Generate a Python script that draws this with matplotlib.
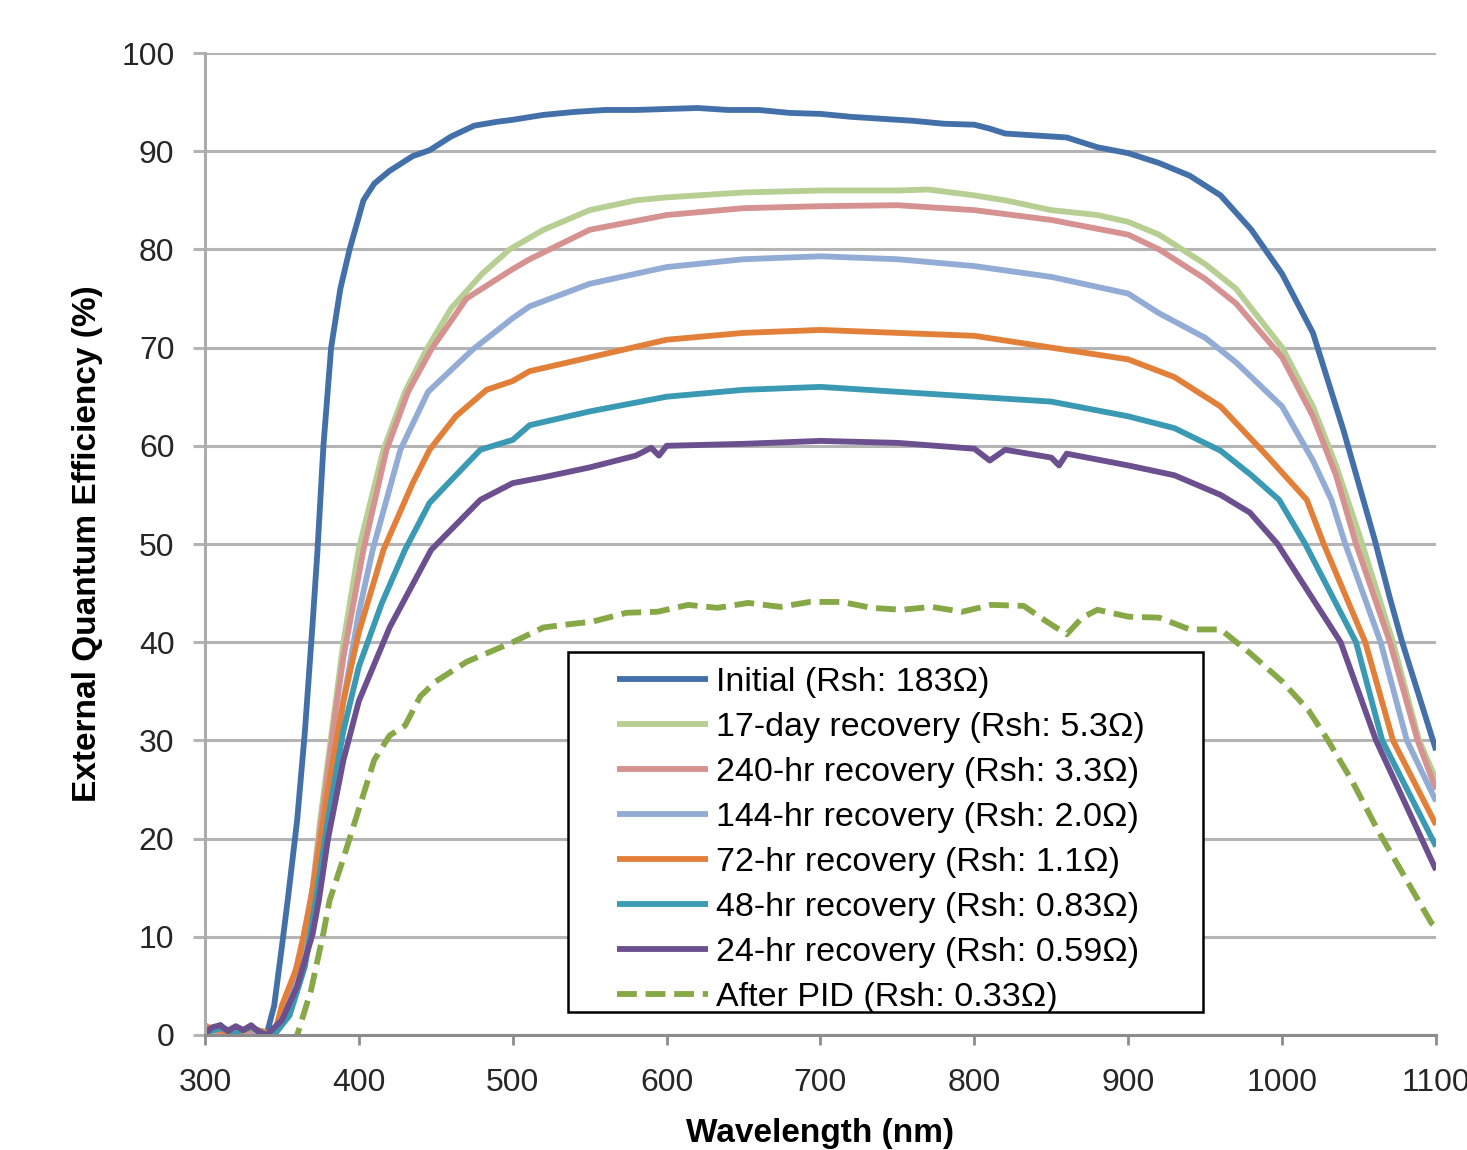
import numpy as np
import matplotlib
matplotlib.use("Agg")
import matplotlib.pyplot as plt
from matplotlib.patches import Rectangle

plt.rcParams['font.family'] = ['Liberation Sans', 'DejaVu Sans']

# --- data (wavelength in nm, EQE in %) ---
wl_initial = [300, 305, 310, 315, 320, 325, 330, 335, 340, 345, 350, 354, 360, 365, 370, 373, 377, 382,
              388, 394, 403, 410, 420, 435, 446, 460, 475, 490, 500, 520, 540, 560, 580, 600, 620, 640,
              660, 680, 700, 720, 740, 760, 780, 800, 810, 820, 840, 860, 880, 900, 920, 940, 960, 980,
              1000, 1020, 1040, 1050, 1060, 1070, 1078, 1090, 1100]
eqe_initial = [0.5, 0.3, 1.0, 0.2, 0.8, 0.1, 0.9, -0.5, 0, 3, 9, 14, 22, 31, 42, 49, 60, 70,
               76, 80, 85, 86.7, 88, 89.5, 90.1, 91.5, 92.6, 93, 93.2, 93.7, 94, 94.2, 94.2, 94.3, 94.4, 94.2,
               94.2, 93.9, 93.8, 93.5, 93.3, 93.1, 92.8, 92.7, 92.3, 91.8, 91.6, 91.4, 90.4, 89.8, 88.8, 87.5,
               85.5, 82, 77.5, 71.5, 61.5, 56, 50.5, 44.5, 40, 34, 29]

wl_17day = [300, 310, 320, 330, 340, 345, 355, 365, 370, 375, 380, 385, 390, 400, 416, 430, 444, 460,
            480, 498, 520, 550, 580, 600, 650, 700, 750, 770, 800, 820, 850, 880, 900, 920, 950, 970,
            1000, 1020, 1035, 1050, 1072, 1089, 1100]
eqe_17day = [0.5, 0.3, 0.8, 0.2, 0, 0, 3, 10, 15, 22, 28, 34, 40, 49.5, 59.6, 65.5, 69.8, 74,
             77.5, 80, 82, 84, 85, 85.3, 85.8, 86, 86, 86.1, 85.5, 85, 84, 83.5, 82.8, 81.5, 78.5, 76,
             70, 64, 58, 51, 40, 30, 26]

wl_240hr = [300, 310, 320, 330, 340, 345, 355, 364, 370, 375, 380, 385, 390, 403, 418, 432, 447, 470,
            500, 511, 550, 600, 650, 700, 750, 800, 850, 900, 920, 950, 970, 1000, 1020, 1035, 1048,
            1070, 1088, 1100]
eqe_240hr = [1.0, 0.2, 0.6, 0.3, 0, 0, 4, 10, 15, 21, 27, 33, 38.5, 49.4, 59.6, 65.5, 69.8, 75,
             78, 79, 82, 83.5, 84.2, 84.4, 84.5, 84, 83, 81.5, 80, 77, 74.5, 69, 63, 57, 50,
             40, 30, 25]

wl_144hr = [300, 310, 320, 330, 340, 345, 355, 365, 372, 380, 390, 400, 409, 427, 445, 474, 500, 511,
            550, 600, 650, 700, 750, 800, 850, 900, 920, 950, 970, 1000, 1020, 1032, 1041, 1064, 1081, 1100]
eqe_144hr = [0.3, 0.8, 0.2, 0.6, 0, 0, 3, 9, 15, 24, 34, 43, 49.4, 59.6, 65.5, 69.8, 73, 74.2,
             76.5, 78.2, 79, 79.3, 79, 78.3, 77.2, 75.5, 73.5, 71, 68.5, 64, 58.5, 54.5, 50, 40, 30, 23.8]

wl_72hr = [300, 310, 320, 330, 337, 345, 350, 360, 369, 380, 390, 400, 416, 435, 446, 463, 483, 500,
           511, 550, 600, 650, 700, 750, 800, 850, 900, 930, 960, 990, 1016, 1027, 1054, 1072, 1100]
eqe_72hr = [0.8, 0.5, 0.2, 0.7, 0.4, 0, 3, 7, 13.7, 25, 34, 41, 49.4, 56.2, 59.6, 63, 65.7, 66.6,
            67.6, 69, 70.8, 71.5, 71.8, 71.5, 71.2, 70, 68.8, 67, 64, 59, 54.5, 50, 40, 30, 21.4]

wl_48hr = [300, 310, 320, 330, 340, 345, 355, 365, 372, 380, 390, 400, 415, 430, 446, 460, 479, 500,
           511, 550, 600, 650, 700, 750, 800, 850, 900, 930, 960, 980, 998, 1015, 1048, 1065, 1100]
eqe_48hr = [0.2, 0.7, 0.3, 0.8, 0, 0, 2, 7, 13.7, 22, 31, 37.5, 44, 49.4, 54.2, 56.5, 59.6, 60.6,
            62.1, 63.5, 65, 65.7, 66, 65.5, 65, 64.5, 63, 61.8, 59.5, 57, 54.5, 50, 40, 30, 19.2]

wl_24hr = [300, 305, 310, 315, 320, 325, 330, 335, 340, 350, 360, 370, 374, 380, 390, 400, 420, 447,
           479, 500, 520, 550, 580, 590, 595, 600, 650, 700, 750, 800, 810, 820, 850, 855, 860, 900,
           930, 960, 979, 997, 1038, 1061, 1100]
eqe_24hr = [0.2, 0.8, 1.0, 0.4, 0.9, 0.5, 1.0, 0.3, 0, 1.5, 5, 10.3, 13.7, 20, 28, 34, 41.5, 49.4,
            54.5, 56.2, 56.8, 57.8, 59, 59.8, 59, 60, 60.2, 60.5, 60.3, 59.7, 58.5, 59.6, 58.8, 58, 59.2, 58,
            57, 55, 53.2, 50, 40, 30, 16.8]

wl_pid = [355, 360, 369, 377, 381, 390, 400, 410, 420, 430, 440, 450, 470, 485, 500, 520, 535, 552,
          574, 594, 614, 633, 653, 674, 693, 714, 733, 753, 772, 792, 811, 832, 847, 860, 870, 880,
          900, 920, 940, 960, 979, 1000, 1017, 1029, 1045, 1062, 1080, 1097, 1100]
eqe_pid = [-1, 0, 4.6, 10.4, 13.7, 18, 23, 28, 30.5, 31.5, 34.5, 36, 38, 39, 40, 41.5, 41.8, 42.1,
           43, 43.1, 43.8, 43.5, 44, 43.6, 44.1, 44.1, 43.5, 43.3, 43.6, 43.1, 43.8, 43.7, 42.1, 40.8, 42.5, 43.3,
           42.6, 42.5, 41.3, 41.3, 38.9, 36, 33.1, 30.2, 26, 20.9, 16, 11.4, 11]

labels = ['Initial (Rsh: 183\u03a9)', '17-day recovery (Rsh: 5.3\u03a9)', '240-hr recovery (Rsh: 3.3\u03a9)',
          '144-hr recovery (Rsh: 2.0\u03a9)', '72-hr recovery (Rsh: 1.1\u03a9)', '48-hr recovery (Rsh: 0.83\u03a9)',
          '24-hr recovery (Rsh: 0.59\u03a9)', 'After PID (Rsh: 0.33\u03a9)']
colors = ['#4470AA', '#B8CF93', '#D69290', '#93ACD5', '#E2803A', '#3A99B3', '#6B4F8F', '#87A847']

series = [(wl_initial, eqe_initial), (wl_17day, eqe_17day), (wl_240hr, eqe_240hr), (wl_144hr, eqe_144hr),
          (wl_72hr, eqe_72hr), (wl_48hr, eqe_48hr), (wl_24hr, eqe_24hr), (wl_pid, eqe_pid)]

fig = plt.figure(figsize=(14.67, 11.5), dpi=100)
ax = fig.add_subplot(111)
fig.subplots_adjust(left=0.1397, right=0.9789, bottom=0.1, top=0.9539)

lw = 4.2
handles = []
for i, (x, y) in enumerate(series):
    if i == len(series) - 1:
        h, = ax.plot(x, y, color=colors[i], lw=lw, dashes=(3.4, 1.5), label=labels[i])
    else:
        h, = ax.plot(x, y, color=colors[i], lw=lw, label=labels[i], solid_capstyle='butt',
                     solid_joinstyle='round')
    handles.append(h)

ax.set_xlim(300, 1100)
ax.set_ylim(0, 100)
ax.set_xticks(np.arange(300, 1101, 100))
ax.set_yticks(np.arange(0, 101, 10))

ax.set_axisbelow(True)
ax.yaxis.grid(True, color='#B4B4B4', lw=2.2)
ax.spines['top'].set_visible(False)
ax.spines['right'].set_visible(False)
ax.spines['left'].set_color('#ABABAB')
ax.spines['left'].set_linewidth(2.2)
ax.spines['bottom'].set_color('#8C8C8C')
ax.spines['bottom'].set_linewidth(2.2)
ax.spines['bottom'].set_zorder(3)

ax.tick_params(axis='y', length=9, width=2.2, color='#B4B4B4', pad=13, labelsize=23, labelcolor='#262626')
ax.tick_params(axis='x', length=7, width=2, color='#8C8C8C', pad=17, labelsize=23, labelcolor='#262626')

ax.set_xlabel('Wavelength (nm)', fontsize=24, fontweight='bold')
ax.set_ylabel('External Quantum Efficiency (%)', fontsize=24, fontweight='bold')
ax.xaxis.set_label_coords(0.5, -0.0845)
ax.yaxis.set_label_coords(-0.083, 0.5)

# legend box drawn separately so the entries can sit indented like the original
box = Rectangle((0.295, 0.0234), 0.516, 0.367, transform=ax.transAxes, facecolor='white',
                edgecolor='black', lw=1.8, zorder=4)
ax.add_patch(box)
leg = ax.legend(handles=handles, loc='upper left', bbox_to_anchor=(0.3346, 0.3747), frameon=False,
                fontsize=24.5, handlelength=2.68, handletextpad=0.24, labelspacing=0.41, borderpad=0,
                borderaxespad=0)
leg.set_zorder(5)

fig.savefig('out.png', dpi=100)
